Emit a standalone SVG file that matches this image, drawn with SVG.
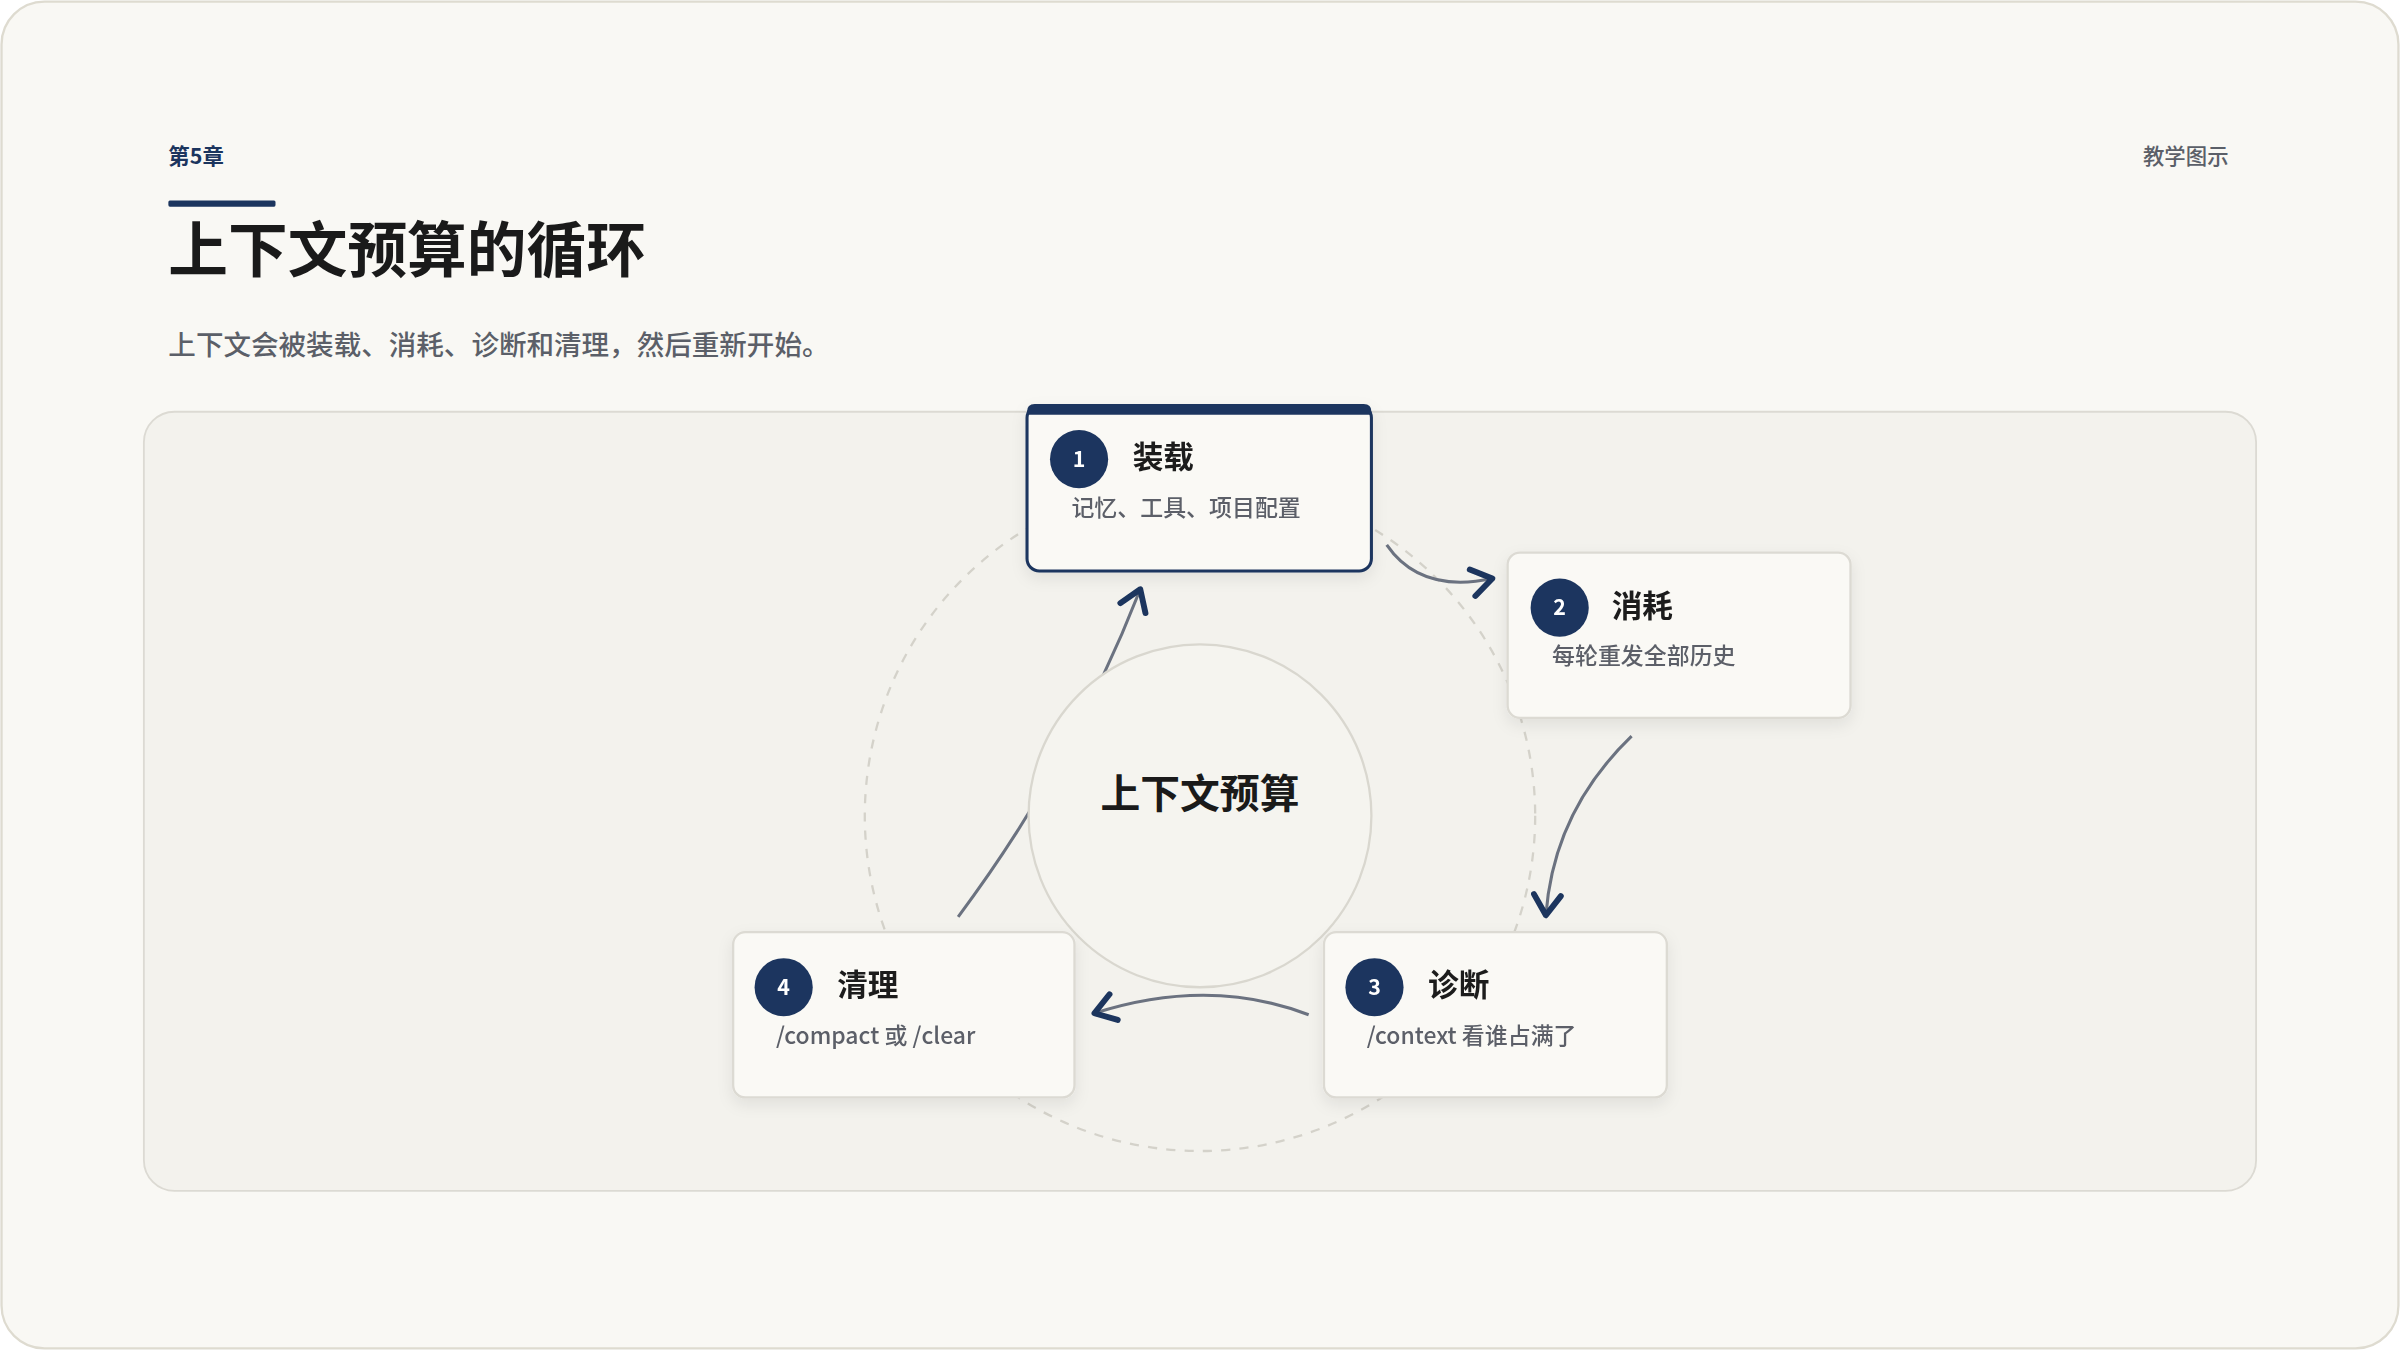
<svg xmlns="http://www.w3.org/2000/svg" width="2400" height="1350" viewBox="0 0 2400 1350">
<defs>
<style>
text{font-family:"Noto Sans CJK SC","Noto Sans",sans-serif}
.nb{fill:#faf9f5;stroke:#dcdad3;stroke-width:1.5}
.num{fill:#1c355e}
.nt{fill:#fff;font-size:14px;font-weight:700;text-anchor:middle}
.tt{fill:#1a1a1a;font-size:20px;font-weight:700}
.st{fill:#5b5f68;font-size:15px;font-weight:500}
.cn{fill:none;stroke:#6b7280;stroke-width:2}
</style>
<marker id="ah" viewBox="0 0 20 20" refX="16" refY="10" markerWidth="22" markerHeight="22" markerUnits="userSpaceOnUse" orient="auto">
<path d="M4,2 L16,10 L4,18" fill="none" stroke="#1c355e" stroke-width="3.5" stroke-linecap="round" stroke-linejoin="round"/>
</marker>
<filter id="sh" x="-20%" y="-20%" width="140%" height="150%"><feDropShadow dx="0" dy="4" stdDeviation="5" flood-color="#000" flood-opacity="0.08"/></filter>
</defs>
<g transform="scale(1.5306)">
<rect x="1" y="1" width="1566" height="880" rx="28" fill="#f9f8f4" stroke="#dedbd0" stroke-width="1.5"/>
<text x="110" y="107" fill="#1c355e" font-size="14" font-weight="700">第5章</text>
<rect x="110" y="131" width="70" height="4" fill="#1c355e" rx="1"/>
<text x="110" y="178" fill="#1a1a1a" font-size="39" font-weight="700">上下文预算的循环</text>
<text x="110" y="232" fill="#5b5f68" font-size="18" font-weight="500">上下文会被装载、消耗、诊断和清理，然后重新开始。</text>
<text x="1456" y="107" fill="#5b5f68" font-size="14" font-weight="500" text-anchor="end">教学图示</text>
<rect x="94" y="269" width="1380" height="509" rx="20" fill="#f3f2ed" stroke="#dcdad3" stroke-width="1.2"/>
<circle cx="784" cy="533" r="219" fill="none" stroke="#d4d2ca" stroke-width="1.5" stroke-dasharray="6 6"/>
<g id="connectors">
<path class="cn" d="M626,599 Q700,500 745,385" marker-end="url(#ah)"/>
<path class="cn" d="M906,356 Q928,388 975,378" marker-end="url(#ah)"/>
<path class="cn" d="M1066,481 Q1015,530 1010,598" marker-end="url(#ah)"/>
<path class="cn" d="M855,663 Q790,638 715,662" marker-end="url(#ah)"/>
</g>
<g id="center">
<circle cx="784" cy="533" r="112" fill="#f5f4ef" stroke="#d9d7cf" stroke-width="1.5"/>
<text x="784" y="528" text-anchor="middle" fill="#1a1a1a" font-size="26" font-weight="700">上下文预算</text>
</g>
<g id="node1" filter="url(#sh)">
<rect x="671" y="265" width="225" height="108" rx="8" fill="#faf9f5" stroke="#1c355e" stroke-width="2"/>
<path d="M671,271 V269 Q671,264 676,264 H891 Q896,264 896,269 V271 Z" fill="#1c355e"/>
<circle class="num" cx="705" cy="300" r="19"/><text class="nt" x="705" y="305">1</text>
<text class="tt" x="740" y="306">装载</text>
<text class="st" x="700" y="337">记忆、工具、项目配置</text>
</g>
<g id="node2" filter="url(#sh)">
<rect class="nb" x="985" y="361" width="224" height="108" rx="8"/>
<circle class="num" cx="1019" cy="397" r="19"/><text class="nt" x="1019" y="402">2</text>
<text class="tt" x="1053" y="403">消耗</text>
<text class="st" x="1014" y="434">每轮重发全部历史</text>
</g>
<g id="node3" filter="url(#sh)">
<rect class="nb" x="865" y="609" width="224" height="108" rx="8"/>
<circle class="num" cx="898" cy="645" r="19"/><text class="nt" x="898" y="650">3</text>
<text class="tt" x="933" y="651">诊断</text>
<text class="st" x="893" y="682">/context 看谁占满了</text>
</g>
<g id="node4" filter="url(#sh)">
<rect class="nb" x="479" y="609" width="223" height="108" rx="8"/>
<circle class="num" cx="512" cy="645" r="19"/><text class="nt" x="512" y="650">4</text>
<text class="tt" x="547" y="651">清理</text>
<text class="st" x="507" y="682">/compact 或 /clear</text>
</g>
</g>
</svg>
